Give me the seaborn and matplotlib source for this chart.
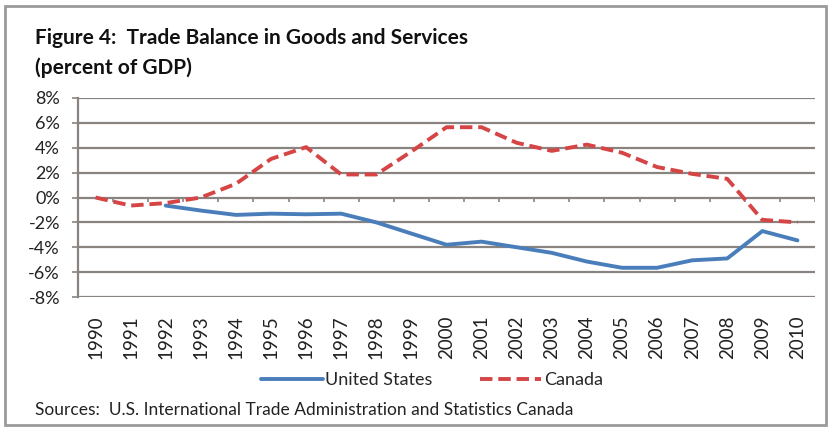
import numpy as np
import pandas as pd
import seaborn as sns
import matplotlib
matplotlib.use("Agg")
import matplotlib.pyplot as plt
from matplotlib.patches import Rectangle

years = list(range(1990, 2011))
us_balance = [np.nan, np.nan, -0.65, -1.05, -1.4, -1.3, -1.35, -1.3, -2.0, -2.9,
              -3.8, -3.55, -4.0, -4.45, -5.15, -5.65, -5.65, -5.05, -4.9, -2.7, -3.45]
canada_balance = [0.0, -0.65, -0.45, 0.0, 1.1, 3.1, 4.05, 1.85, 1.85, 3.7,
                  5.65, 5.65, 4.4, 3.75, 4.25, 3.6, 2.45, 1.9, 1.5, -1.8, -2.0]
series_names = ["United States", "Canada"]
y_ticks = [-8, -6, -4, -2, 0, 2, 4, 6, 8]

df = pd.concat([
    pd.DataFrame({"year": years, "value": us_balance, "country": series_names[0]}),
    pd.DataFrame({"year": years, "value": canada_balance, "country": series_names[1]}),
]).dropna()

sns.set_theme(style="white")
plt.rcParams["font.family"] = ["Lato", "DejaVu Sans"]

W, H = 831, 429
fig = plt.figure(figsize=(W / 100, H / 100), dpi=100)
ax = fig.add_axes([78 / W, 1 - 297 / H, (815 - 78) / W, (297 - 98) / H])

grid_col = "#8a8480"
for v in y_ticks:
    ax.axhline(v, color=grid_col, lw=1.6, zorder=1)

palette = {"United States": "#4a7ebb", "Canada": "#d64545"}
dashes = {"United States": "", "Canada": (3.2, 1.5)}
sns.lineplot(data=df, x="year", y="value", hue="country", style="country",
             palette=palette, dashes=dashes, hue_order=series_names,
             style_order=series_names, linewidth=2.8, ax=ax, legend=False,
             zorder=3)

ax.set_xlim(years[0] - 0.5, years[-1] + 0.5)
ax.set_ylim(-8, 8)
ax.set_yticks(y_ticks)
ax.set_yticklabels([f"{v}%" for v in y_ticks], fontsize=13, color="#222222")
ax.set_xticks(years)
ax.set_xticklabels([str(y) for y in years], rotation=90, fontsize=13.5,
                   color="#222222")
ax.tick_params(axis="x", length=0, pad=13)
ax.tick_params(axis="y", length=4, width=1.2, color=grid_col, left=True, pad=9)
ax.set_xlabel("")
ax.set_ylabel("")
for s in ["top", "right", "bottom"]:
    ax.spines[s].set_visible(False)
ax.spines["left"].set_color(grid_col)
ax.spines["left"].set_linewidth(1.6)

# category boundary ticks on the zero line
bounds = np.arange(years[0] - 0.5, years[-1] + 1.0, 1.0)
ax.vlines(bounds, -0.35, 0, color=grid_col, lw=1.2, zorder=2)

# legend
handles = []
for n in series_names:
    h = plt.Line2D([], [], color=palette[n], lw=2.8)
    if dashes[n]:
        h.set_dashes(dashes[n])
    handles.append(h)
fig.legend(handles, series_names, loc="center", ncol=2,
           bbox_to_anchor=(432 / W, 1 - 380 / H), frameon=False,
           fontsize=13, handlelength=3.4, handletextpad=0.15,
           columnspacing=2.6)

fig.text(35 / W, 1 - 38 / H, "Figure 4:  Trade Balance in Goods and Services",
         fontsize=15, fontweight="bold", va="center", ha="left", color="#111111")
fig.text(35 / W, 1 - 68 / H, "(percent of GDP)",
         fontsize=15, fontweight="bold", va="center", ha="left", color="#111111")
fig.text(35 / W, 1 - 410 / H,
         "Sources:  U.S. International Trade Administration and Statistics Canada",
         fontsize=12.5, va="center", ha="left", color="#222222")

fig.patches.append(Rectangle((5 / W, 4 / H), (826 - 5) / W, (424 - 5) / H,
                             transform=fig.transFigure, fill=False,
                             edgecolor="#9a9a9a", lw=2))

fig.savefig("out.png", dpi=100)
